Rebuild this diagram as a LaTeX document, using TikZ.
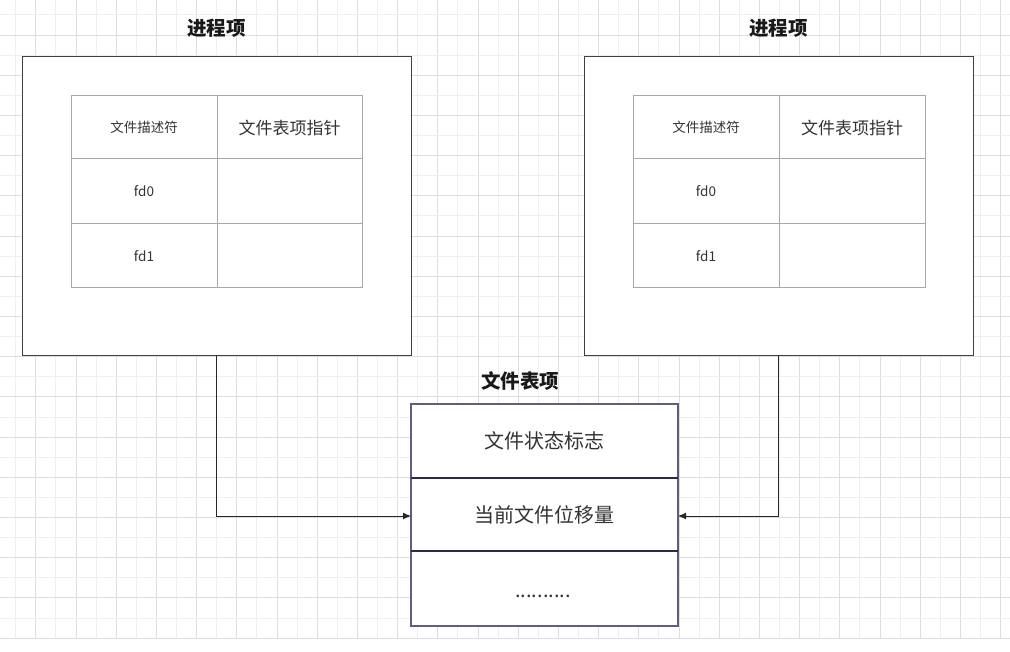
\documentclass[tikz,border=0pt]{standalone}
\usepackage{fontspec}
\setmainfont{Noto Sans CJK SC}
\usetikzlibrary{arrows.meta}
\definecolor{gridminor}{HTML}{EFEFEF}
\definecolor{gridmajor}{HTML}{DEDEDE}
\definecolor{procline}{HTML}{404040}
\definecolor{tabline}{HTML}{A8A8A8}
\definecolor{fileline}{HTML}{5E5E7E}
\definecolor{filesep}{HTML}{2A2A4A}
\definecolor{txt}{HTML}{333333}
\begin{document}
\begin{tikzpicture}[x=1pt,y=-1pt,
  procbox/.style={draw=procline, line width=1pt, fill=white, inner sep=0pt, outer sep=0pt, anchor=north west, minimum width=389pt, minimum height=299pt},
  cell/.style={draw=tabline, line width=1pt, inner sep=0pt, outer sep=0pt, anchor=north west, text=txt},
  small/.style={font=\fontsize{13.5}{16}\selectfont},
  mid/.style={font=\fontsize{17}{20}\selectfont},
  fcell/.style={draw=none, inner sep=0pt, outer sep=0pt, anchor=north west, minimum width=267pt, text=txt, font=\fontsize{20}{24}\selectfont},
  title/.style={font=\bfseries\fontsize{19.5}{24}\selectfont, text=black!90},
  conn/.style={draw=black!85, line width=1pt, -{Latex[length=8pt,width=7pt]}}
]
\useasboundingbox (0,0) rectangle (1010,652);
\fill[white] (0,0) rectangle (1010,652);
% grid
\foreach \i in {0,...,49} {
  \pgfmathsetmacro{\gx}{15.7+20.1*\i}
  \pgfmathtruncatemacro{\odd}{mod(\i,2)}
  \ifnum\odd=1 \draw[gridmajor, line width=1pt] (\gx,0) -- (\gx,638.1); \else \draw[gridminor, line width=1pt] (\gx,0) -- (\gx,638.1); \fi
}
\foreach \j in {0,...,31} {
  \pgfmathsetmacro{\gy}{15+20.1*\j}
  \pgfmathtruncatemacro{\odd}{mod(\j,2)}
  \ifnum\odd=1 \draw[gridmajor, line width=1pt] (0,\gy) -- (1010,\gy); \else \draw[gridminor, line width=1pt] (0,\gy) -- (1010,\gy); \fi
}
% process boxes
\node[procbox] (p1) at (22,57) {};
\node[procbox] (p2) at (584,57) {};
\node[title] (p1t) at (216.5,28) {进程项};
\node[title] (p2t) at (778.5,28) {进程项};
% left table
\node[cell, small, minimum width=146pt, minimum height=63pt] (a11) at (71,96) {文件描述符};
\node[cell, mid, minimum width=145pt, minimum height=63pt] (a12) at (217,96) {文件表项指针};
\node[cell, small, minimum width=146pt, minimum height=65pt, text depth=-1pt] (a21) at (71,159) {fd0};
\node[cell, minimum width=145pt, minimum height=65pt] (a22) at (217,159) {};
\node[cell, small, minimum width=146pt, minimum height=64pt, text depth=-1pt] (a31) at (71,224) {fd1};
\node[cell, minimum width=145pt, minimum height=64pt] (a32) at (217,224) {};
% right table
\node[cell, small, minimum width=146pt, minimum height=63pt] (b11) at (633,96) {文件描述符};
\node[cell, mid, minimum width=146pt, minimum height=63pt] (b12) at (779,96) {文件表项指针};
\node[cell, small, minimum width=146pt, minimum height=65pt, text depth=-1pt] (b21) at (633,159) {fd0};
\node[cell, minimum width=146pt, minimum height=65pt] (b22) at (779,159) {};
\node[cell, small, minimum width=146pt, minimum height=64pt, text depth=-1pt] (b31) at (633,224) {fd1};
\node[cell, minimum width=146pt, minimum height=64pt] (b32) at (779,224) {};
% file table
\node[title] (ft) at (520,381) {文件表项};
\node[fcell, fill=white, minimum height=74pt] (f1) at (411,404) {文件状态标志};
\node[fcell, fill=white, minimum height=73pt] (f2) at (411,478) {当前文件位移量};
\node[fcell, fill=white, minimum height=75pt] (f3) at (411,551) {};
\node[text=txt, font=\fontsize{20}{24}\selectfont, anchor=base] (fdots) at (543,597) {..........};
\draw[draw=fileline, line width=1.2pt] (f1.north west) rectangle (f3.south east);
\draw[draw=filesep, line width=1.1pt] (f2.north west) -- (f2.north east);
\draw[draw=filesep, line width=1.1pt] (f3.north west) -- (f3.north east);
% connectors
\draw[conn] (p1.south) |- ([yshift=-1.5pt]f2.west);
\draw[conn] (p2.south) |- ([yshift=-1.5pt]f2.east);
\end{tikzpicture}
\end{document}
